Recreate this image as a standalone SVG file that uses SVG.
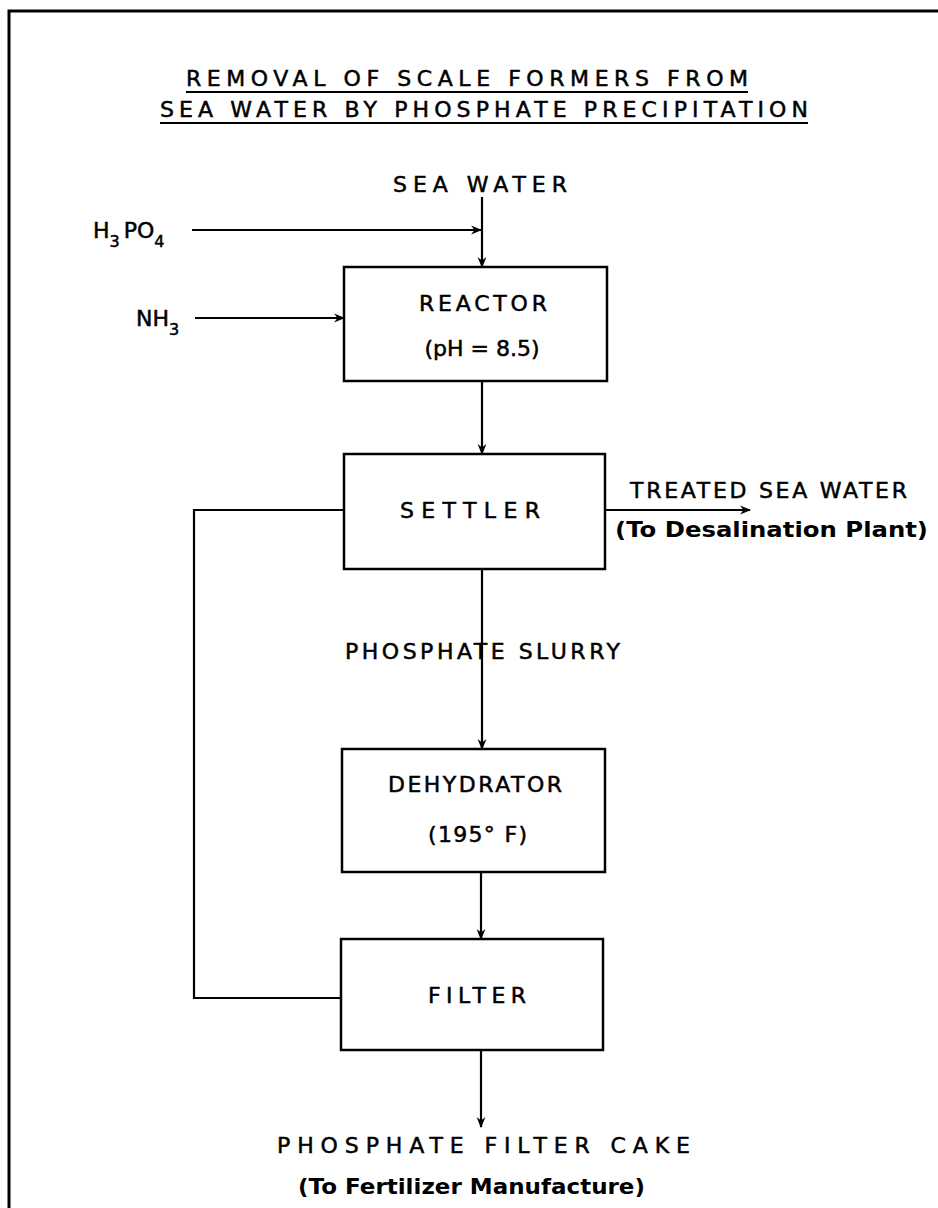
<svg xmlns="http://www.w3.org/2000/svg" width="938" height="1208" viewBox="0 0 938 1208">
<defs>
<marker id="ah" viewBox="0 0 10 10" refX="9" refY="5" markerWidth="11" markerHeight="11" markerUnits="userSpaceOnUse" orient="auto">
<path d="M0,1 L10,5 L0,9 L3,5 Z" fill="#000"/>
</marker>
<style>
.t{font-family:"DejaVu Sans","Liberation Sans",sans-serif;font-size:22px;fill:#000;stroke:#000;stroke-width:0.5px;}
.m{font-family:"DejaVu Sans","Liberation Sans",sans-serif;font-size:21px;font-weight:bold;fill:#000;}
.box{fill:#fff;stroke:#000;stroke-width:2.5;}
.ln{fill:none;stroke:#000;stroke-width:2.2;}
.ul{stroke:#000;stroke-width:2;}
</style>
</defs>
<rect width="938" height="1208" fill="#fff"/>
<g id="frame">
<path d="M9,1208 V11 H938" fill="none" stroke="#000" stroke-width="3"/>
</g>
<g id="title">
<text class="t" x="186" y="86" textLength="562" lengthAdjust="spacing">REMOVAL OF SCALE FORMERS FROM</text>
<line class="ul" x1="186" y1="92" x2="748" y2="92"/>
<text class="t" x="160" y="117" textLength="648" lengthAdjust="spacing">SEA WATER BY PHOSPHATE PRECIPITATION</text>
<line class="ul" x1="160" y1="123" x2="808" y2="123"/>
</g>
<g id="connectors">
<line class="ln" x1="482" y1="197" x2="482" y2="267" marker-end="url(#ah)"/>
<line class="ln" x1="192" y1="230" x2="481" y2="230" marker-end="url(#ah)"/>
<line class="ln" x1="195" y1="318" x2="344" y2="318" marker-end="url(#ah)"/>
<line class="ln" x1="482" y1="381" x2="482" y2="454" marker-end="url(#ah)"/>
<line class="ln" x1="605" y1="510" x2="750" y2="510" marker-end="url(#ah)"/>
<line class="ln" x1="482" y1="569" x2="482" y2="749" marker-end="url(#ah)"/>
<line class="ln" x1="481" y1="872" x2="481" y2="939" marker-end="url(#ah)"/>
<line class="ln" x1="481" y1="1050" x2="481" y2="1127" marker-end="url(#ah)"/>
<path class="ln" d="M344,510 H194 V998 H341"/>
</g>
<g id="sea-water">
<text class="t" x="393" y="192" textLength="174" lengthAdjust="spacing">SEA WATER</text>
</g>
<g id="h3po4">
<text class="t" x="93" y="238">H<tspan font-size="16" dy="9">3</tspan><tspan dx="4" dy="-9">PO</tspan><tspan font-size="16" dy="9">4</tspan></text>
</g>
<g id="nh3">
<text class="t" x="136" y="326">NH<tspan font-size="16" dy="9">3</tspan></text>
</g>
<g id="reactor">
<rect class="box" x="344" y="267" width="263" height="114"/>
<text class="t" x="419" y="311" textLength="128" lengthAdjust="spacing">REACTOR</text>
<text class="t" x="482" y="356" text-anchor="middle">(pH = 8.5)</text>
</g>
<g id="settler">
<rect class="box" x="344" y="454" width="261" height="115"/>
<text class="t" x="400" y="518" textLength="140" lengthAdjust="spacing">SETTLER</text>
</g>
<g id="treated">
<text class="t" x="630" y="498" textLength="277" lengthAdjust="spacing">TREATED SEA WATER</text>
<text class="m" x="615" y="537" textLength="313" lengthAdjust="spacingAndGlyphs">(To Desalination Plant)</text>
</g>
<g id="slurry">
<text class="t" x="345" y="659" textLength="275" lengthAdjust="spacing">PHOSPHATE SLURRY</text>
</g>
<g id="dehydrator">
<rect class="box" x="342" y="749" width="263" height="123"/>
<text class="t" x="388" y="792" textLength="174" lengthAdjust="spacing">DEHYDRATOR</text>
<text class="t" x="428" y="842" textLength="99" lengthAdjust="spacing">(195° F)</text>
</g>
<g id="filter">
<rect class="box" x="341" y="939" width="262" height="111"/>
<text class="t" x="428" y="1003" textLength="98" lengthAdjust="spacing">FILTER</text>
</g>
<g id="cake">
<text class="t" x="277" y="1153" textLength="413" lengthAdjust="spacing">PHOSPHATE FILTER CAKE</text>
<text class="m" x="298" y="1194" textLength="347" lengthAdjust="spacingAndGlyphs">(To Fertilizer Manufacture)</text>
</g>
</svg>
